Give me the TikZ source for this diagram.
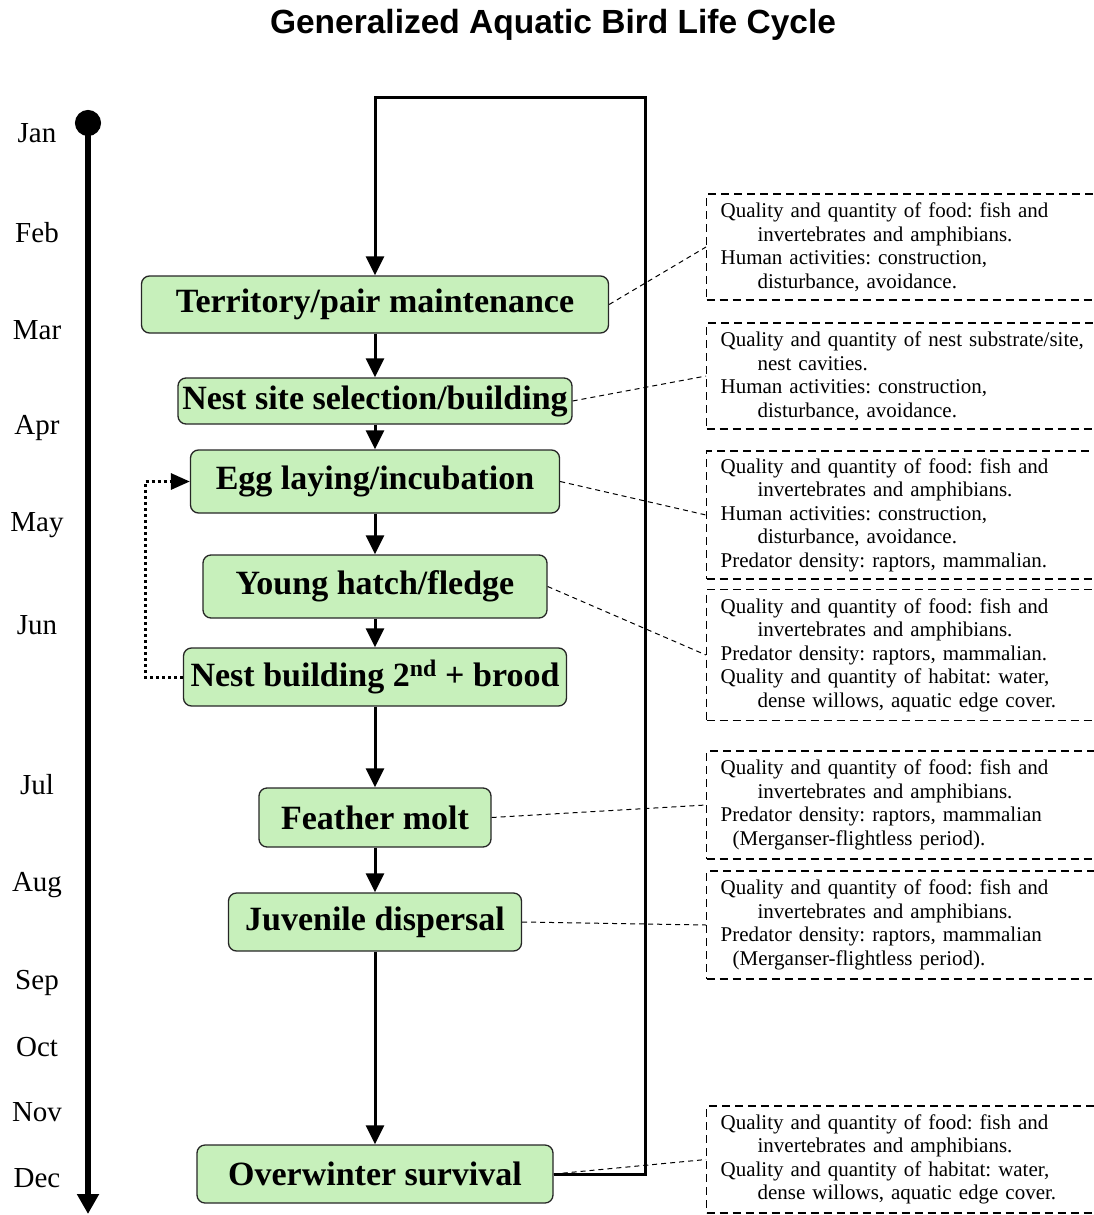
\documentclass[tikz,border=0pt]{standalone}
\usepackage{fontspec}
\setmainfont{Liberation Serif}
\newfontfamily\titlefont{Liberation Sans}
\usetikzlibrary{arrows.meta,positioning}
\definecolor{stagegreen}{RGB}{199,240,187}
\frenchspacing

\begin{document}
\begin{tikzpicture}[x=1pt, y=-1pt,
    stage/.style={rectangle, draw=black!85, line width=1.3pt, fill=stagegreen, rounded corners=8pt, inner xsep=3pt, inner ysep=2pt, font=\fontsize{34}{38}\selectfont\bfseries},
    factor/.style={rectangle, draw, dash pattern=on 8pt off 5pt, line width=1.2pt, anchor=west, text width=372pt, inner xsep=14pt, align=left, font=\fontsize{21}{23.5}\selectfont},
    month/.style={font=\fontsize{29}{34}\selectfont},
    flow/.style={line width=3pt, -{Triangle[length=19pt,width=18pt]}},
    link/.style={line width=1pt, dash pattern=on 5pt off 4pt}
]
    \useasboundingbox (0,0) rectangle (1094,1215);
    \clip (0,0) rectangle (1094,1215);

    \node[font=\titlefont\fontsize{33.5}{38}\selectfont\bfseries] (title) at (553,25) {Generalized Aquatic Bird Life Cycle};

    % time line
    \coordinate (tstart) at (88,110);
    \coordinate (tend) at (88,1214);
    \draw[line width=6pt, {Circle[length=26pt]}-{Triangle[length=20pt,width=21pt]}] (tstart) -- (tend);
    \foreach \m/\y in {Jan/133, Feb/233, Mar/330, Apr/428, May/525, Jun/625, Jul/785, Aug/885, Sep/983, Oct/1047, Nov/1112, Dec/1178}
        \node[month] (m-\m) at (37,\y) {\m};

    % stages
    \node[stage, minimum width=467pt, minimum height=57pt] (terr) at (375,304.5) {Territory/pair maintenance};
    \node[stage, minimum width=394pt, minimum height=46pt] (nest) at (375,401) {Nest site selection/building};
    \node[stage, minimum width=369pt, minimum height=63pt] (egg) at (375,481.5) {Egg laying/incubation};
    \node[stage, minimum width=344pt, minimum height=63pt] (young) at (375,586.5) {Young hatch/fledge};
    \node[stage, minimum width=383pt, minimum height=58pt] (nb2) at (375,677) {Nest building 2\textsuperscript{nd} + brood};
    \node[stage, minimum width=232pt, minimum height=59pt] (molt) at (375,817.5) {Feather molt};
    \node[stage, minimum width=293pt, minimum height=58pt] (juv) at (375,922) {Juvenile dispersal};
    \node[stage, minimum width=356pt, minimum height=58pt] (ow) at (375,1174) {Overwinter survival};

    \draw[flow] (terr) -- (nest);
    \draw[flow] (nest) -- (egg);
    \draw[flow] (egg) -- (young);
    \draw[flow] (young) -- (nb2);
    \draw[flow] (nb2) -- (molt);
    \draw[flow] (molt) -- (juv);
    \draw[flow] (juv) -- (ow);

    % yearly loop and second brood
    \coordinate (loopturn) at (645,97);
    \draw[flow] (ow.east) -| (loopturn) -| (terr.north);
    \coordinate (backturn) at (145,677);
    \draw[line width=3pt, dash pattern=on 3pt off 3pt, -{Triangle[length=19pt,width=16pt]}] (nb2.west) -- (backturn) |- (egg.west);

    % factors
    \node[factor, minimum height=106pt] (f1) at (706,247) {Quality and quantity of food: fish and\\\hspace*{37pt}invertebrates and amphibians.\\Human activities: construction,\\\hspace*{37pt}disturbance, avoidance.};
    \node[factor, minimum height=106pt] (f2) at (706,376) {Quality and quantity of nest substrate/site,\\\hspace*{37pt}nest cavities.\\Human activities: construction,\\\hspace*{37pt}disturbance, avoidance.};
    \node[factor, minimum height=128pt] (f3) at (706,515) {Quality and quantity of food: fish and\\\hspace*{37pt}invertebrates and amphibians.\\Human activities: construction,\\\hspace*{37pt}disturbance, avoidance.\\Predator density: raptors, mammalian.};
    \node[factor, minimum height=131pt] (f4) at (706,655) {Quality and quantity of food: fish and\\\hspace*{37pt}invertebrates and amphibians.\\Predator density: raptors, mammalian.\\Quality and quantity of habitat: water,\\\hspace*{37pt}dense willows, aquatic edge cover.};
    \node[factor, minimum height=108pt] (f5) at (706,805) {Quality and quantity of food: fish and\\\hspace*{37pt}invertebrates and amphibians.\\Predator density: raptors, mammalian\\\hspace*{12pt}(Merganser-flightless period).};
    \node[factor, minimum height=108pt] (f6) at (706,925) {Quality and quantity of food: fish and\\\hspace*{37pt}invertebrates and amphibians.\\Predator density: raptors, mammalian\\\hspace*{12pt}(Merganser-flightless period).};
    \node[factor, minimum height=107pt] (f7) at (706,1159.5) {Quality and quantity of food: fish and\\\hspace*{37pt}invertebrates and amphibians.\\Quality and quantity of habitat: water,\\\hspace*{37pt}dense willows, aquatic edge cover.};

    \draw[link] (terr.east) -- (f1.west);
    \draw[link] (nest.east) -- (f2.west);
    \draw[link] (egg.east) -- (f3.west);
    \draw[link] (young.east) -- (f4.west);
    \draw[link] (molt.east) -- (f5.west);
    \draw[link] (juv.east) -- (f6.west);
    \draw[link] (ow.east) -- (f7.west);
\end{tikzpicture}
\end{document}
